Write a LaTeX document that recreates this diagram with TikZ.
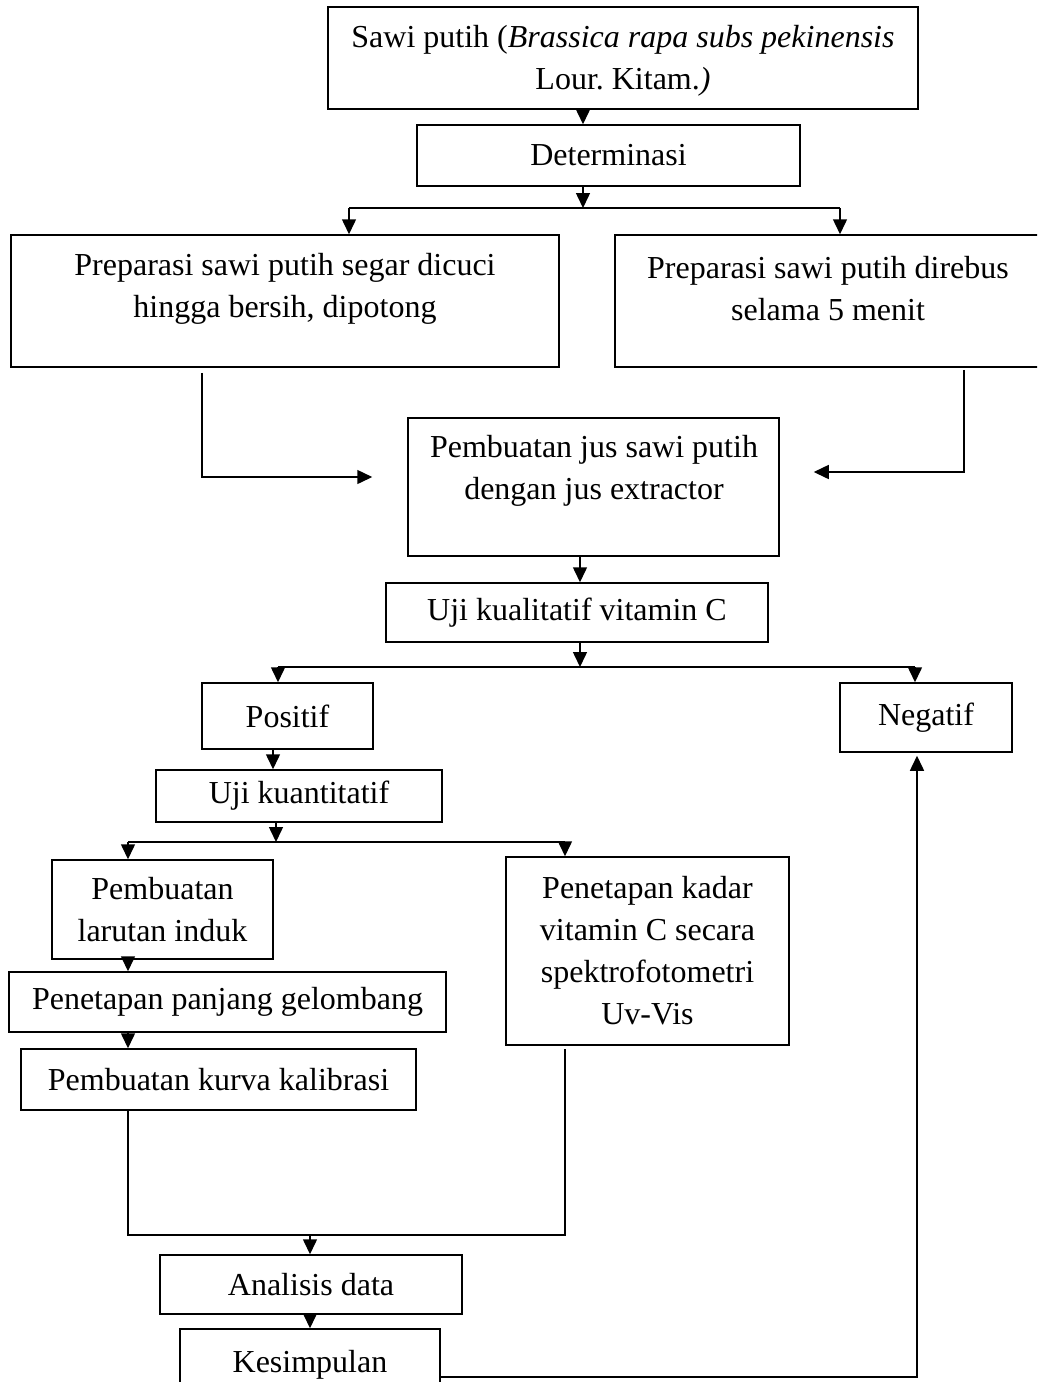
\documentclass[tikz,border=0pt]{standalone}
\usepackage{fontspec}
\setmainfont{Liberation Serif}
\usetikzlibrary{arrows.meta,calc}
\begin{document}
\frenchspacing
\begin{tikzpicture}[x=1pt,y=-1pt,
  box/.style={draw,line width=1.5pt,rectangle,inner sep=0pt,font=\fontsize{32}{42}\selectfont,align=center},
  txt/.style={inner sep=0pt,font=\fontsize{32}{42}\selectfont,align=center},
  arr/.style={line width=1.5pt,-{Triangle[length=15pt,width=14pt]}},
  ln/.style={line width=1.5pt}]
\clip (0,0) rectangle (1037,1382);
% boxes
\node[box,minimum width=590pt,minimum height=102pt] (top) at (623,58) {};
\node[txt] (toptxt) at (623,61) {Sawi putih (\textit{Brassica rapa subs pekinensis}\\Lour. Kitam.\textit{)}};
\node[box,minimum width=383pt,minimum height=61pt] (det) at (608.5,155.5) {Determinasi};
\node[box,minimum width=548pt,minimum height=132pt] (segar) at (285,301) {};
\node[txt] (segartxt) at (285,289) {Preparasi sawi putih segar dicuci\\hingga bersih, dipotong};
\node[box,minimum width=430pt,minimum height=132pt] (rebus) at (830,301) {};
\node[txt] (rebustxt) at (828,289) {Preparasi sawi putih direbus\\selama 5 menit};
\node[box,minimum width=371pt,minimum height=138pt] (jus) at (593.5,487) {};
\node[txt] (justxt) at (594,471) {Pembuatan jus sawi putih\\dengan jus extractor};
\node[box,minimum width=382pt,minimum height=59pt] (kual) at (577,612.5) {Uji kualitatif vitamin C};
\node[box,minimum width=171pt,minimum height=66pt] (pos) at (287.5,716) {Positif};
\node[box,minimum width=172pt,minimum height=69pt] (neg) at (926,717.5) {Negatif};
\node[box,minimum width=286pt,minimum height=52pt] (kuan) at (299,796) {Uji kuantitatif};
\node[box,minimum width=221pt,minimum height=99pt] (larut) at (162.5,909.5) {Pembuatan\\larutan induk};
\node[box,minimum width=437pt,minimum height=60pt] (pjg) at (227.5,1002) {Penetapan panjang gelombang};
\node[box,minimum width=395pt,minimum height=61pt] (kurva) at (218.5,1079.5) {Pembuatan kurva kalibrasi};
\node[box,minimum width=283pt,minimum height=188pt] (kadar) at (647.5,951) {Penetapan kadar\\vitamin C secara\\spektrofotometri\\Uv-Vis};
\node[box,minimum width=302pt,minimum height=59pt] (anal) at (311,1284.5) {Analisis data};
\node[box,minimum width=260pt,minimum height=71pt] (kes) at (310,1364.5) {Kesimpulan};
% coordinates
\coordinate (xa) at (583,0);
\coordinate (xb) at (580,0);
\coordinate (s1) at (583,208);
\coordinate (s1l) at (349,208);
\coordinate (s1r) at (840,208);
\coordinate (g1) at (202,0);
\coordinate (g2) at (964,0);
\coordinate (s2) at (580,667);
\coordinate (s2l) at (278,667);
\coordinate (s2r) at (915,667);
\coordinate (xp) at (273,0);
\coordinate (s3) at (276,842);
\coordinate (s3l) at (128,842);
\coordinate (s3r) at (565,842);
\coordinate (m1) at (128,1235);
\coordinate (m2) at (565,1235);
\coordinate (m3) at (310,1235);
\coordinate (f1) at (917,1377);
% connectors
\draw[arr] (xa |- top.south) -- (xa |- det.north);
\draw[arr] (xa |- det.south) -- (s1);
\draw[ln] (s1l) -- (s1r);
\draw[arr] (s1l) -- (s1l |- segar.north);
\draw[arr] (s1r) -- (s1r |- rebus.north);
\draw[arr] ($(segar.south -| g1)+(0,5)$) |- ($(jus.west)+(-35,-10)$);
\draw[arr] ($(rebus.south -| g2)+(0,2)$) |- ($(jus.east)+(34,-15)$);
\draw[arr] (xb |- jus.south) -- (xb |- kual.north);
\draw[arr] (xb |- kual.south) -- (s2);
\draw[ln] (s2l) -- (s2r);
\draw[arr] (s2l) -- (s2l |- pos.north);
\draw[arr] (s2r) -- (s2r |- neg.north);
\draw[arr] (xp |- pos.south) -- (xp |- kuan.north);
\draw[arr] (s3 |- kuan.south) -- (s3);
\draw[ln] (s3l) -- (s3r);
\draw[arr] (s3l) -- (s3l |- larut.north);
\draw[arr] (s3r) -- (s3r |- kadar.north);
\draw[arr] (s3l |- larut.south) -- (s3l |- pjg.north);
\draw[arr] (s3l |- pjg.south) -- (s3l |- kurva.north);
\draw[ln] (m1 |- kurva.south) -- (m1) -- (m2) -- ($(m2 |- kadar.south)+(0,3)$);
\draw[arr] (m3) -- (m3 |- anal.north);
\draw[arr] (m3 |- anal.south) -- (m3 |- kes.north);
\draw[arr] (kes.east |- f1) -- (f1) -- ($(f1 |- neg.south)+(0,3)$);
\end{tikzpicture}
\end{document}
